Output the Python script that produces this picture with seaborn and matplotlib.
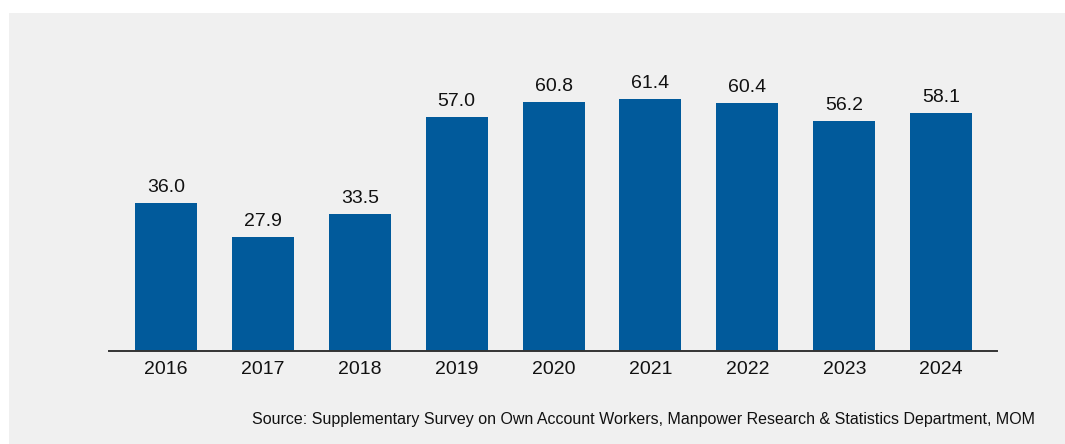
import matplotlib
matplotlib.use("Agg")
import matplotlib.pyplot as plt
from matplotlib.patches import Rectangle
import seaborn as sns
import pandas as pd

years = ["2016", "2017", "2018", "2019", "2020", "2021", "2022", "2023", "2024"]
values = [36.0, 27.9, 33.5, 57.0, 60.8, 61.4, 60.4, 56.2, 58.1]
source_note = ("Source: Supplementary Survey on Own Account Workers, "
               "Manpower Research & Statistics Department, MOM")

bar_color = "#015a9b"
panel_color = "#f0f0f0"
text_color = "#111111"

sns.set_theme(style="white")
plt.rcParams["font.family"] = ["Liberation Sans", "DejaVu Sans"]

df = pd.DataFrame({"year": years, "value": values})

fig = plt.figure(figsize=(10.65, 4.44), dpi=100)
fig.patch.set_facecolor("white")
# light grey panel behind the chart
fig.patches.append(Rectangle((9 / 1065, 0), 1 - 9 / 1065, (444 - 13) / 444,
                             transform=fig.transFigure, facecolor=panel_color,
                             edgecolor="none", zorder=-10))

ax = fig.add_axes([109 / 1065, 93 / 444, 888 / 1065, 287 / 444])
ax.set_facecolor("none")
ax.set_zorder(1)

sns.barplot(data=df, x="year", y="value", color=bar_color, width=0.64,
            saturation=1, linewidth=0, ax=ax)

ax.set_xlim(-0.588, 8.576)
ax.set_ylim(0, 70)

for i, v in enumerate(values):
    ax.annotate(f"{v:.1f}", (i, v), xytext=(0, 5), textcoords="offset points",
                ha="center", va="bottom", fontsize=14, color=text_color)

for s in ["top", "right", "left"]:
    ax.spines[s].set_visible(False)
ax.spines["bottom"].set_color("#333333")
ax.spines["bottom"].set_linewidth(1.4)
ax.set_yticks([])
ax.tick_params(axis="x", length=0, pad=7, labelsize=14, labelcolor=text_color)
ax.set_xlabel("")
ax.set_ylabel("")

fig.text(1035 / 1065, 1 - 419 / 444, source_note, ha="right", va="center",
         fontsize=11.5, color=text_color)

fig.savefig("out.png", dpi=100, facecolor=fig.get_facecolor())
